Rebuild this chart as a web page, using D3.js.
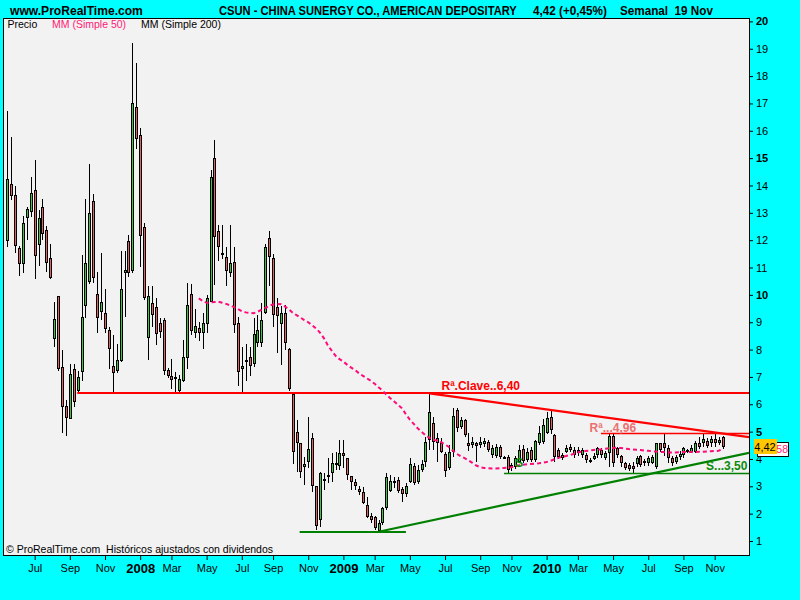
<!DOCTYPE html>
<html><head><meta charset="utf-8">
<script src="https://cdn.jsdelivr.net/npm/d3@7"></script>
<style>body{margin:0;background:#00ffff;overflow:hidden}svg{display:block}text{white-space:pre}</style>
</head><body>
<script>
// ---------- DATA ----------
const firstBar = "2007-05-14";           // weekly bars (Monday)
const open = [11.98,14.04,13.65,11.70,11.12,12.80,13.02,13.83,11.81,13.21,
12.36,11.34,8.37,9.96,7.35,5.94,5.45,7.28,6.50,7.17,
9.60,10.48,13.42,10.02,9.38,9.33,8.71,7.40,7.20,7.59,
10.81,11.96,10.88,16.86,15.83,12.47,8.41,9.69,9.54,8.96,
9.07,7.25,7.03,7.00,6.50,6.86,7.70,10.03,8.62,8.79,
8.59,8.93,9.75,14.99,12.33,11.50,11.37,10.79,11.20,8.96,
7.28,7.62,7.72,7.46,8.23,8.23,9.33,12.07,11.34,9.54,
8.93,9.35,8.01,6.37,4.97,4.57,3.72,3.90,4.75,3.01,
1.77,3.26,3.35,3.48,3.78,3.74,4.21,4.02,3.39,3.15,
2.89,2.80,2.32,1.91,1.87,1.38,1.67,2.20,2.84,3.19,
3.23,2.89,2.72,3.17,3.74,3.15,3.60,3.90,4.69,5.30,
4.75,4.57,4.18,3.66,4.26,5.79,5.18,5.42,4.59,4.51,
4.57,4.51,4.55,4.63,4.14,4.11,4.43,4.06,4.08,3.66,
3.72,3.90,4.35,3.96,4.33,3.96,4.59,4.63,4.94,5.52,
4.87,4.33,4.14,4.26,4.43,4.33,4.21,4.14,4.14,3.96,
3.99,4.14,4.33,4.03,4.21,4.84,4.39,4.11,3.86,3.78,
3.76,3.82,4.11,3.90,3.84,3.86,3.69,4.57,4.57,4.39,
4.02,3.90,4.06,4.14,4.30,4.26,4.26,4.57,4.57,4.66,
4.57,4.72,4.57,4.79];
const high = [16.72,15.77,13.98,11.79,12.88,13.22,14.31,14.93,13.11,13.50,
12.52,11.86,9.75,9.96,7.98,6.16,7.46,7.46,7.22,11.46,
13.50,14.77,13.69,10.82,11.53,10.20,8.83,8.53,8.20,11.60,
11.60,12.19,19.21,18.47,16.09,12.62,10.32,10.32,9.87,9.14,
9.14,7.31,7.65,7.19,7.07,8.35,10.42,10.39,9.47,9.00,
9.33,10.00,14.56,15.66,12.55,12.55,11.76,12.55,11.76,9.20,
8.11,8.20,8.11,9.14,9.26,9.69,11.85,12.33,11.49,9.87,
9.59,9.63,8.05,6.39,5.42,4.60,4.08,5.54,4.94,3.01,
3.53,3.50,4.05,4.21,4.26,4.69,4.69,4.02,3.39,3.26,
3.01,2.99,2.62,2.03,1.91,1.77,2.25,3.48,3.42,3.35,
3.35,2.99,3.11,4.02,3.84,3.78,3.96,4.81,6.40,5.54,
4.94,4.75,4.26,4.51,5.85,5.85,5.55,5.45,4.94,4.81,
4.63,4.80,4.75,4.70,4.50,4.55,4.50,4.10,4.15,3.85,
4.10,4.50,4.50,4.40,4.45,4.70,5.20,5.45,5.70,5.80,
4.90,4.40,4.20,4.50,4.55,4.45,4.45,4.40,4.20,4.05,
4.20,4.45,4.40,4.30,4.94,4.90,4.45,4.15,3.90,3.85,
3.90,4.10,4.15,4.00,4.10,4.15,4.60,4.60,4.90,4.50,
4.10,4.15,4.30,4.45,4.35,4.50,4.65,4.80,4.90,4.75,
4.85,4.90,4.80,4.85];
const low = [11.76,13.47,11.54,10.70,10.81,12.00,12.86,10.59,11.07,12.00,
10.84,10.58,8.10,7.20,4.96,4.84,5.45,5.91,6.42,6.86,
9.16,10.40,10.43,8.59,9.08,8.59,7.28,6.42,7.14,7.55,
9.20,10.65,10.80,15.34,11.03,9.81,7.62,8.81,8.17,8.41,
7.07,6.95,6.55,6.42,6.42,6.81,7.28,8.53,8.42,8.30,
8.01,8.60,9.74,10.36,11.25,11.30,10.32,10.66,8.59,6.67,
6.45,6.86,7.03,7.35,8.10,8.10,9.30,10.32,8.81,7.86,
7.43,7.98,6.50,3.82,3.53,3.29,3.05,3.66,2.80,1.40,
1.52,2.86,3.11,3.17,3.60,3.60,3.66,3.23,2.86,2.86,
2.68,2.35,1.83,1.67,1.40,1.34,1.59,2.13,2.80,2.93,
2.76,2.44,2.60,3.11,3.05,3.10,3.53,3.72,4.33,4.33,
3.90,4.20,3.33,3.60,4.08,5.00,5.10,4.80,4.30,4.40,
3.90,4.40,4.45,4.25,4.05,4.05,4.00,4.00,3.50,3.55,
3.65,3.85,3.85,3.90,3.90,3.90,4.50,4.55,4.90,4.90,
3.90,4.00,3.95,4.20,4.25,4.05,4.10,4.05,3.85,3.85,
3.95,4.05,4.05,3.95,3.70,3.70,4.05,3.70,3.60,3.55,
3.50,3.70,3.70,3.75,3.75,3.80,3.65,4.25,4.10,3.85,
3.75,3.80,3.95,4.05,4.20,4.20,4.20,4.35,4.45,4.40,
4.45,4.45,4.50,4.35];
const close = [14.22,13.62,11.80,11.12,12.62,13.13,13.71,11.43,12.81,12.24,
11.15,10.60,9.11,7.28,5.91,5.49,7.09,6.09,6.99,9.18,
11.15,12.98,10.60,9.14,9.73,8.75,8.01,7.13,7.62,10.20,
10.91,10.81,17.00,15.69,12.14,9.87,9.97,9.25,8.56,8.65,
7.23,7.03,6.89,6.97,6.91,7.72,9.63,8.68,8.85,8.59,
8.98,9.87,14.30,12.10,11.74,11.52,10.88,11.15,8.90,7.17,
7.40,7.63,7.39,8.56,8.71,9.08,11.76,11.40,9.26,9.24,
9.35,8.23,6.55,4.26,4.57,3.53,3.82,4.35,3.01,1.55,
3.50,3.27,3.41,3.84,3.86,4.21,4.11,3.41,3.15,3.01,
2.80,2.38,1.87,1.77,1.46,1.67,2.20,3.35,3.20,3.11,
2.84,2.72,3.01,3.80,3.13,3.60,3.82,4.63,5.71,4.63,
4.57,4.26,3.57,4.26,5.57,5.12,5.42,4.87,4.47,4.63,
4.47,4.63,4.66,4.33,4.39,4.45,4.06,4.08,3.60,3.78,
4.03,4.33,3.94,4.26,3.96,4.66,4.96,5.24,5.49,5.06,
4.08,4.08,4.02,4.41,4.33,4.14,4.33,4.33,3.96,3.98,
4.11,4.39,4.14,4.23,4.84,3.86,4.14,3.86,3.66,3.62,
3.62,4.02,3.78,3.92,4.02,4.08,4.57,4.33,4.39,4.02,
3.84,4.08,4.18,4.39,4.31,4.39,4.57,4.45,4.72,4.48,
4.72,4.57,4.69,4.42];
// MM (Simple 50), starting at bar 49
const ma50Start = 49;
const ma50 = [9.87,9.78,9.71,9.72,9.74,9.75,9.71,9.67,9.62,9.55,
9.48,9.40,9.36,9.34,9.33,9.38,9.45,9.52,9.60,9.65,
9.67,9.66,9.58,9.48,9.35,9.26,9.17,9.08,9.00,8.89,
8.77,8.62,8.42,8.16,7.96,7.77,7.65,7.56,7.44,7.34,
7.25,7.13,7.04,6.95,6.86,6.75,6.62,6.50,6.35,6.22,
6.10,5.98,5.85,5.63,5.44,5.28,5.12,4.99,4.87,4.77,
4.71,4.66,4.61,4.53,4.44,4.31,4.19,4.10,4.03,3.95,
3.86,3.76,3.70,3.67,3.66,3.65,3.65,3.66,3.67,3.68,
3.70,3.74,3.77,3.79,3.81,3.82,3.83,3.84,3.86,3.89,
3.93,3.99,4.04,4.08,4.11,4.14,4.19,4.24,4.27,4.29,
4.31,4.33,4.34,4.35,4.37,4.39,4.40,4.41,4.40,4.38,
4.36,4.35,4.34,4.33,4.31,4.30,4.28,4.27,4.26,4.25,
4.24,4.24,4.24,4.25,4.25,4.25,4.25,4.25,4.26,4.26,
4.27,4.28,4.29,4.30,4.36];
const priceTicks = d3.range(1, 21);
const boldPriceTicks = [5, 10, 15, 20];
const monthNames = ["Jan","Feb","Mar","Apr","May","Jun","Jul","Aug","Sep","Oct","Nov","Dec"];
// horizontal levels: value, first bar, last bar (null = to right edge)
const levelValues = [6.40, 4.96, 3.50, 1.34];
const levelFrom = [17.9, 151.9, 127.1, 74.8];
const levelTo = [null, null, null, 102];
// trend lines: [bar, value] anchors
const trendStart = [[108, 6.40], [95, 1.34]];
const trendEnd = [[183, 4.93], [183, 4.02]];
const levelLabels = ["R\u00aa.Clave..6,40", "R\u00aa...4,96", "S...3,50"];
const lastPrice = "4,42", maTagVisible = "58";   // MA tag is mostly hidden behind the price tag

// ---------- CHART ----------
const FONT = "'Liberation Sans', Arial, sans-serif";
const W = 800, H = 600;
const P = {l: 3, t: 18, r: 749, b: 555};
const WEEK = 7 * 864e5;
const t0 = Date.parse(firstBar + "T00:00:00Z");
const N = open.length;
const dates = d3.range(N).map(i => new Date(t0 + i * WEEK));
const x = d3.scaleTime().domain([dates[0], dates[N - 1]]).range([7.3, 722.5]);
const y = d3.scaleLinear().domain([1, 20]).range([541, 21.4]);
const xb = k => x(new Date(t0 + k * WEEK));
const kRight = (x.invert(P.r) - t0) / WEEK;

const svg = d3.select("body").append("svg").attr("width", W).attr("height", H)
  .style("font-family", FONT);
svg.append("rect").attr("width", W).attr("height", H).attr("fill", "#00ffff");
svg.append("defs").append("clipPath").attr("id", "clip").append("rect")
  .attr("x", P.l + 1).attr("y", P.t + 1).attr("width", P.r - P.l - 1).attr("height", P.b - P.t - 1);
svg.append("rect").attr("x", P.l + 0.5).attr("y", P.t + 0.5)
  .attr("width", P.r - P.l).attr("height", P.b - P.t)
  .attr("fill", "#f2f2f2").attr("stroke", "#000").attr("stroke-width", 1);

// text squeezed horizontally to a target width
function fitText(sel, d) {
  sel.attr("transform", null).attr("x", 0).attr("y", 0);
  const nat = sel.node().getComputedTextLength();
  const k = Math.min(1, d.w / nat);
  sel.attr("transform", `translate(${d.x},${d.y}) scale(${k},1)`);
}

// header
const hdr = [
  {t: "www.ProRealTime.com", x: 10, y: 14.5, w: 133},
  {t: "CSUN - CHINA SUNERGY CO., AMERICAN DEPOSITARY", x: 219, y: 14.5, w: 298},
  {t: "4,42 (+0,45%)", x: 533, y: 14.5, w: 74},
  {t: "Semanal  19 Nov", x: 620, y: 14.5, w: 93}
];
svg.selectAll("text.hdr").data(hdr).join("text").attr("class", "hdr")
  .attr("font-size", 12.5).attr("font-weight", "bold").text(d => d.t)
  .each(function (d) { fitText(d3.select(this), d); });

// legend
const leg = [
  {t: "Precio", x: 7.5, y: 28, w: 30, c: "#000"},
  {t: "MM (Simple 50)", x: 52, y: 28, w: 75, c: "#ff1a75"},
  {t: "MM (Simple 200)", x: 141, y: 28, w: 81, c: "#000"}
];
svg.selectAll("text.leg").data(leg).join("text").attr("class", "leg")
  .attr("font-size", 10.5).attr("fill", d => d.c).text(d => d.t)
  .each(function (d) { fitText(d3.select(this), d); });

const plot = svg.append("g").attr("clip-path", "url(#clip)");

// candles
const bars = d3.range(N).map(i => ({d: dates[i], o: open[i], h: high[i], l: low[i], c: close[i]}));
const cg = plot.append("g");
const cand = cg.selectAll("g").data(bars).join("g");
cand.append("rect").attr("x", d => Math.round(x(d.d))).attr("width", 1)
  .attr("y", d => Math.round(y(d.h)))
  .attr("height", d => Math.max(1, Math.round(y(d.l)) - Math.round(y(d.h))))
  .attr("fill", "#000");
cand.each(function (d) {
  const cx = Math.round(x(d.d));
  const top = Math.round(y(Math.max(d.o, d.c))), bot = Math.round(y(Math.min(d.o, d.c)));
  const h = Math.max(2, bot - top);
  const s = d3.select(this);
  s.append("rect").attr("x", cx - 1).attr("y", top).attr("width", 3).attr("height", h).attr("fill", "#000");
  if (h > 2) s.append("rect").attr("x", cx).attr("y", top + 1).attr("width", 1).attr("height", h - 2)
    .attr("fill", d.c >= d.o ? "#3cc83c" : "#e06262");
});

// horizontal levels
const levelColor = ["#ff0000", "#ff0000", "#008000", "#008000"];
const levelWidth = [2, 1.5, 1.5, 2];
levelValues.forEach((v, i) => {
  const yy = Math.round(y(v)) + (levelWidth[i] === 1.5 ? 0.5 : 0);
  plot.append("line").attr("x1", xb(levelFrom[i])).attr("x2", levelTo[i] == null ? P.r : xb(levelTo[i]))
    .attr("y1", yy).attr("y2", yy).attr("stroke", levelColor[i]).attr("stroke-width", levelWidth[i]);
});
// trend lines extended to the right edge
const trendColor = ["#ff0000", "#008000"];
trendStart.forEach((s, i) => {
  const e = trendEnd[i];
  const vr = s[1] + (e[1] - s[1]) * (kRight - s[0]) / (e[0] - s[0]);
  plot.append("line").attr("x1", xb(s[0])).attr("y1", y(s[1])).attr("x2", P.r).attr("y2", y(vr))
    .attr("stroke", trendColor[i]).attr("stroke-width", 2.2);
});

// moving average
const maLine = d3.line().x((v, k) => x(dates[ma50Start + k])).y(v => y(v)).curve(d3.curveLinear);
plot.append("path").attr("d", maLine(ma50)).attr("fill", "none")
  .attr("stroke", "#ff0a78").attr("stroke-width", 2).attr("stroke-dasharray", "4,3");

// level labels
const lab = [
  {t: levelLabels[0], x: xb(111.1), y: y(levelValues[0]) - 3.5, c: "#ff0000"},
  {t: levelLabels[1], x: xb(149), y: y(levelValues[1]) - 0.5, c: "#ec7070"},
  {t: levelLabels[2], x: xb(178.8), y: y(levelValues[2]) - 2.5, c: "#0a8a0a"},
  {t: "S", x: xb(130), y: y(levelValues[2]) - 5.5, c: "#0a8a0a"}
];
plot.selectAll("text.lab").data(lab).join("text").attr("class", "lab")
  .attr("x", d => d.x).attr("y", d => d.y).attr("fill", d => d.c)
  .attr("font-size", 12).attr("font-weight", "bold").text(d => d.t);

// copyright
svg.append("text").attr("font-size", 10.5)
  .text("\u00a9 ProRealTime.com  Hist\u00f3ricos ajustados con dividendos")
  .call(s => fitText(s, {x: 6, y: 553, w: 271}));

// right axis
const ay = svg.append("g").attr("transform", `translate(${P.r},0)`)
  .call(d3.axisRight(y).tickValues(priceTicks).tickSize(4).tickPadding(3).tickFormat(d3.format("d")));
ay.select(".domain").remove();
ay.selectAll("text").attr("font-family", FONT).attr("font-size", 11).attr("fill", "#000")
  .attr("font-weight", d => boldPriceTicks.includes(d) ? "bold" : "normal");
ay.selectAll("line").attr("stroke", "#000");

// bottom axis: first bar of every other month
const tickDates = dates.filter((d, i) => i > 0 && d.getUTCMonth() !== dates[i - 1].getUTCMonth() && d.getUTCMonth() % 2 === 0);
const ax = svg.append("g").attr("transform", `translate(0,${P.b})`)
  .call(d3.axisBottom(x).tickValues(tickDates).tickSize(5).tickPadding(4)
    .tickFormat(d => d.getUTCMonth() === 0 ? String(d.getUTCFullYear()) : monthNames[d.getUTCMonth()]));
ax.select(".domain").remove();
ax.selectAll("line").attr("stroke", "#000");
ax.selectAll("text").attr("font-family", FONT).attr("fill", "#000")
  .attr("font-size", d => d.getUTCMonth() === 0 ? 13 : 11)
  .attr("font-weight", d => d.getUTCMonth() === 0 ? "bold" : "normal");

// price tags (last price drawn over the moving-average tag, as in the original)
const yMa = y(ma50[ma50.length - 1]), yLast = y(close[N - 1]);
svg.append("rect").attr("x", 757.5).attr("y", Math.round(yMa) - 6.5).attr("width", 31).attr("height", 14)
  .attr("fill", "#fff").attr("stroke", "#000");
svg.append("text").attr("x", 788).attr("y", Math.round(yMa) + 4).attr("text-anchor", "end")
  .attr("font-size", 10.5).attr("fill", "#ff1a75").text(maTagVisible);
svg.append("rect").attr("x", 754).attr("y", Math.round(yLast) - 8).attr("width", 23).attr("height", 15)
  .attr("fill", "#ffc800");
svg.append("text").attr("x", 765).attr("y", Math.round(yLast) + 3.5).attr("text-anchor", "middle")
  .attr("font-size", 11).attr("fill", "#000").text(lastPrice);
</script>
</body></html>
